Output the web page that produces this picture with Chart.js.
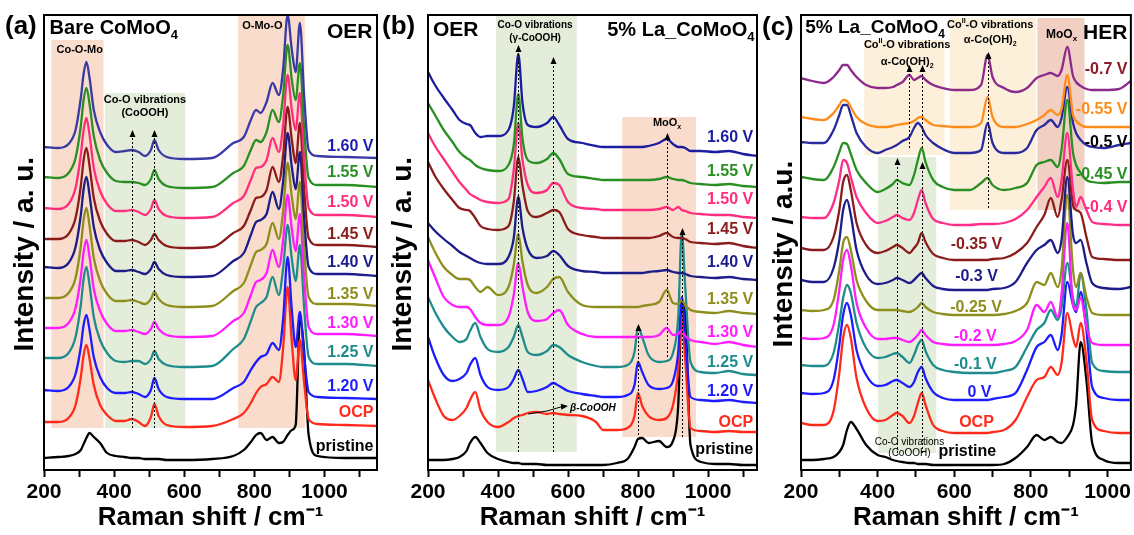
<!DOCTYPE html>
<html>
<head>
<meta charset="utf-8">
<script src="https://cdn.jsdelivr.net/npm/chart.js@4.4.0/dist/chart.umd.min.js"></script>
<style>
  body { margin: 0; background: #fff; }
  #wrap { position: relative; width: 1134px; height: 535px; overflow: hidden; }
  canvas { position: absolute; top: 0; }
</style>
</head>
<body>
<div id="wrap">
  <canvas id="chartA" width="380" height="535" style="left:0px"></canvas>
  <canvas id="chartB" width="382" height="535" style="left:380px"></canvas>
  <canvas id="chartC" width="374" height="535" style="left:760px"></canvas>
</div>
<script>
// ---------- panel (a): bare CoMoO4, OER ----------
const ramanA = [200,240,270,290,305,313,321,330,342,360,380,405,430,450,470,488,505,515,527,550,600,680,740,770,790,805,818,835,852,870,882,895,907,918,930,942,955,980,1060,1150];
const namesA = ['1.60 V','1.55 V','1.50 V','1.45 V','1.40 V','1.35 V','1.30 V','1.25 V','1.20 V','OCP','pristine'];
const offsetA = [310,282,252,222,193,163,133,103,70,43,10];
const a160 = [13,12,16,30,62,86,98,82,50,28,15,8,9,10,8,4,10,20,10,3,1,2,17,23,40,50,47,58,77,65,90,145,110,88,137,65,10,4,3,2];
const a155 = [11,10,15,30,62,88,100,84,52,28,15,7,6,6,5,3,9,18,9,2,0,1,15,22,38,48,46,56,78,66,92,143,108,88,125,60,10,3,3,1];
const a150 = [10,9,14,30,63,88,100,83,50,27,14,7,7,8,6,3,9,18,9,2,0,1,15,22,38,50,51,58,80,66,92,143,108,88,125,60,10,3,3,1];
const a145 = [9,9,14,30,62,88,100,82,50,27,14,7,7,8,6,3,8,14,8,2,0,1,15,22,38,50,51,58,81,66,92,141,108,85,125,60,10,3,3,1];
const a140 = [10,9,14,30,62,88,100,82,50,27,14,6,6,7,5,3,8,15,8,2,0,1,16,24,42,55,57,63,85,68,95,144,110,88,125,60,10,3,3,1];
const a135 = [9,9,14,29,61,87,99,81,49,26,13,6,6,7,5,3,8,15,8,2,0,1,16,24,42,55,57,63,84,68,95,144,110,88,125,60,10,3,3,1];
const a130 = [9,9,14,29,60,85,97,80,48,26,13,6,6,7,5,3,8,15,8,2,0,1,16,24,42,55,57,64,87,70,96,142,108,86,123,60,10,3,3,1];
const a125 = [9,9,14,30,62,88,100,82,50,27,14,6,5,6,6,3,8,16,8,2,0,1,18,28,46,60,64,70,90,72,98,142,108,86,122,60,10,3,3,1];
const a120 = [10,9,13,26,53,75,85,70,43,23,12,7,7,8,6,3,10,22,11,3,1,1,12,18,30,38,43,46,57,50,80,143,90,53,88,45,8,3,2,1];
const aOCP = [5,5,9,22,50,72,82,68,42,22,12,6,6,8,5,1,10,23,11,2,0,1,8,14,24,34,40,43,50,45,78,140,85,47,87,45,8,3,2,1];
const aPristine = [2,3,4,6,10,16,22,27,23,17,7,4,3,2,2,1,1,1,1,0,0,1,4,10,18,25,27,20,23,17,18,25,30,35,140,110,25,4,2,2];

// ---------- panel (b): 5% La_CoMoO4, OER ----------
const ramanB = [200,220,245,270,290,310,320,335,350,370,400,430,445,458,470,485,510,540,558,575,600,640,680,700,740,770,790,800,812,830,860,882,900,915,925,935,950,980,1020,1060,1100,1140];
const namesB = ['1.60 V','1.55 V','1.50 V','1.45 V','1.40 V','1.35 V','1.30 V','1.25 V','1.20 V','OCP','pristine'];
const offsetB = [323,290,260,232,197,163,133,103,73,40,5];
const b160 = [75,62,49,37,27,23,22,14,10,11,11,17,40,93,44,22,20,24,30,22,8,4,1,0,0,0,0,0,0,1,4,8,3,0,0,-1,-4,-4,-5,-4,-7,-9];
const b155 = [77,65,50,38,28,22,20,15,12,10,9,15,35,86,41,20,17,21,27,21,6,3,1,0,0,0,0,0,0,0,1,3,1,0,0,-1,-3,-4,-5,-4,-6,-7];
const b150 = [77,64,51,38,28,20,16,13,10,8,7,11,40,87,50,25,17,20,27,25,8,2,1,0,0,0,0,0,0,0,1,3,0,3,0,-1,-3,-4,-5,-5,-7,-8];
const b145 = [76,62,49,38,30,28,27,20,12,9,8,12,36,81,52,27,21,25,28,26,9,3,1,0,0,0,0,0,0,0,2,5,1,0,0,-1,-4,-5,-6,-5,-8,-10];
const b140 = [50,42,34,27,21,17,15,12,10,9,9,16,35,76,45,24,15,17,22,18,7,2,1,0,0,0,0,0,0,1,2,3,1,0,0,-1,-3,-4,-5,-4,-6,-7];
const b135 = [70,55,40,32,28,28,27,20,15,20,12,20,42,73,45,22,14,20,28,30,15,2,0,0,0,0,0,0,1,2,5,17,4,3,7,2,-3,-5,-6,-4,-6,-7];
const b130 = [77,60,40,32,30,30,28,20,14,12,12,20,42,74,50,25,16,18,24,27,12,3,0,0,0,0,0,0,0,0,2,9,2,3,6,1,-3,-5,-7,-5,-8,-10];
const b125 = [70,55,40,30,25,28,36,44,30,18,15,20,30,42,30,15,12,16,22,20,12,5,1,0,0,2,15,40,30,12,5,6,14,50,135,80,5,-5,-6,-4,-7,-8];
const b120 = [60,40,22,16,18,24,32,39,22,10,7,10,18,27,18,5,6,10,14,11,6,3,1,0,0,2,12,35,25,12,8,9,16,45,100,60,0,-3,-4,-3,-5,-6];
const bOCP = [50,32,14,10,14,22,30,38,20,8,3,8,12,14,15,17,18,16,17,16,15,14,8,0,0,2,14,37,24,14,10,12,25,60,115,70,2,-1,-2,-1,-2,-2];
const bPristine = [5,5,5,6,8,14,22,28,22,12,6,3,2,2,1,1,1,0,0,0,0,0,0,0,2,6,18,26,27,22,24,18,24,60,160,150,20,3,1,1,0,0];

// ---------- panel (c): 5% La_CoMoO4, HER ----------
const ramanC = [200,230,260,285,300,310,320,330,345,370,400,420,440,450,465,483,495,505,515,525,545,570,600,640,670,687,700,730,760,790,815,835,852,870,880,895,910,918,930,945,960,990,1030,1061];
const namesC = ['-0.7 V','-0.55 V','-0.5 V','-0.45 V','-0.4 V','-0.35 V','-0.3 V','-0.25 V','-0.2 V','-0.1 V','0 V','OCP','pristine'];
const offsetC = [380,343,317,280,245,210,180,155,125,97,70,37,5];
const c070 = [12,9,7,13,20,25,25,20,13,5,2,2,3,5,8,15,10,12,14,10,5,2,0,0,5,35,13,2,-2,2,12,15,17,14,20,43,14,8,4,1,0,0,1,9];
const c055 = [10,8,7,14,22,27,26,20,10,3,0,0,1,2,3,4,6,9,10,7,2,1,0,0,4,30,10,0,0,3,7,12,17,12,18,52,12,6,2,0,0,0,0,0];
const c050 = [11,10,10,23,38,48,48,38,20,6,0,3,6,8,12,16,25,30,26,18,10,4,0,0,3,30,10,0,0,5,23,28,33,26,35,66,30,20,13,8,6,5,8,10];
const c045 = [13,11,10,23,38,47,46,36,20,7,-2,1,6,10,7,5,15,30,42,28,10,3,0,0,7,12,5,0,2,7,25,28,30,23,40,90,37,25,17,10,8,7,8,8];
const c040 = [8,7,7,22,45,65,62,48,28,12,2,4,8,10,7,5,12,25,35,22,6,2,0,0,1,1,1,2,6,15,28,38,47,28,45,92,35,18,28,15,3,1,0,0];
const c035 = [12,10,10,23,50,78,85,70,37,15,7,9,13,15,12,7,12,17,27,18,6,2,0,0,0,0,1,2,7,17,33,45,62,43,60,100,55,50,47,23,3,1,0,0];
const c030 = [10,8,8,22,50,80,90,75,40,15,6,7,10,12,10,7,10,14,17,12,4,1,0,0,0,0,1,2,8,27,40,45,50,37,50,113,55,47,50,27,7,2,1,3];
const c025 = [5,4,5,15,45,72,78,65,35,14,5,5,5,5,4,3,5,8,12,8,3,1,0,0,0,0,0,1,4,12,33,30,42,28,45,120,45,28,42,18,2,0,0,0];
const c020 = [7,6,7,20,55,85,95,80,42,17,6,6,7,7,5,3,6,10,15,10,3,1,0,0,0,0,0,1,4,15,40,33,43,28,50,122,40,35,47,18,2,0,0,0];
const c010 = [8,7,7,20,50,75,88,80,50,25,15,16,19,20,16,10,18,28,33,22,8,3,1,0,0,0,0,2,6,26,43,50,63,53,65,110,75,66,100,63,10,2,1,1];
const c000 = [7,6,7,20,55,85,97,85,50,25,14,15,19,20,17,13,18,28,33,22,8,2,0,0,0,0,1,3,7,30,53,58,65,50,65,118,95,88,108,70,13,2,0,0];
const cOCP = [10,8,8,22,60,95,108,95,55,25,12,13,18,20,17,10,17,30,40,28,8,2,0,0,0,0,1,3,13,36,53,56,66,58,70,120,95,86,110,73,13,2,0,0];
const cPristine = [5,5,6,8,13,20,35,43,36,20,10,8,5,4,3,2,2,1,1,1,0,0,0,0,0,0,0,1,7,18,30,25,28,23,22,28,40,60,123,85,22,5,2,2];

// ---------- styles / layout ----------
const FONT = '"Liberation Sans", Arial, Helvetica, sans-serif';
const ORANGE = '#f9dccb', GREEN = '#e3edd9', YELLOW = '#fdf0da', SALMON = '#f1d0c3';
// trailing no-break spaces nudge the rotated title a little down, like the original
const Y_TITLE_PAD = '\u00A0\u00A0\u00A0';

const colorsA = ['#3a3aa6','#2a8f22','#ff2d7d','#8b1c1c','#1c1c8a','#8e8e1c','#ff1cff','#1e8c8c','#1c1cff','#ff2a1a','#000000'];
const labelColorsA = ['#1c1cb0','#2a8f22','#ff2d7d','#8b1c1c','#1c1c8a','#8e8e1c','#ff1cff','#1e8c8c','#1c1cff','#ff2a1a','#000000'];
const labelYA = [323,297,267,235,207,175,146,117,83,57,23];

const colorsB = ['#1c1ca0','#2a8f22','#ff2d7d','#8b1c1c','#1c1c8a','#8e8e1c','#ff1cff','#1e8c8c','#1c1cff','#ff2a1a','#000000'];
const labelYB = [332,298,270,240,207,170,137,107,78,47,20];

const colorsC = ['#8b2a8b','#ff8c1a','#2a2aa0','#2a8f22','#ff2d8a','#8b1c1c','#1c1c8a','#8e8e1c','#ff1cff','#1e8c8c','#1c1cff','#ff2a1a','#000000'];
const labelColorsC = ['#8b1a2a','#ff8c1a','#000000','#2a8f22','#ff2d7d','#8b1c1c','#1c1c8a','#8e8e1c','#ff1cff','#1e8c8c','#1c1cff','#ff2a1a','#000000'];
const labelXC = [1052,1052,1052,1052,1052,658,658,657,655,655,666,658,634];
const labelYC = [400,360,327,295,262,225,193,162,133,105,77,47,18];

// split "CoMoO_{4}" / "Co^{II}" into plain, sub and sup parts
function richParts(str) {
    const parts = [];
    const re = /([_^])\{([^}]*)\}/g;
    let last = 0, m;
    while ((m = re.exec(str))) {
        if (m.index > last) parts.push({ t: str.slice(last, m.index), k: '' });
        parts.push({ t: m[2], k: m[1] });
        last = re.lastIndex;
    }
    if (last < str.length) parts.push({ t: str.slice(last), k: '' });
    return parts;
}

function drawRich(ctx, str, x, y, size, o) {
    const parts = richParts(str);
    const weight = o.weight || 'bold';
    const style = o.italic ? 'italic ' : '';
    const fontFor = k => `${style}${weight} ${k ? Math.round(size * 0.65) : size}px ${FONT}`;
    let total = 0;
    parts.forEach(p => { ctx.font = fontFor(p.k); p.w = ctx.measureText(p.t).width; total += p.w; });
    let cx = o.align === 'right' ? x - total : (o.align === 'left' ? x : x - total / 2);
    ctx.fillStyle = o.color || '#000';
    ctx.textAlign = 'left';
    ctx.textBaseline = 'middle';
    parts.forEach(p => {
        ctx.font = fontFor(p.k);
        const dy = p.k === '_' ? size * 0.35 : (p.k === '^' ? -size * 0.35 : 0);
        ctx.fillText(p.t, cx, y + dy);
        cx += p.w;
    });
}

function arrowHead(ctx, x, y, angle) {
    ctx.save();
    ctx.translate(x, y);
    ctx.rotate(angle);
    ctx.beginPath();
    ctx.moveTo(0, 0);
    ctx.lineTo(-7, -3);
    ctx.lineTo(-7, 3);
    ctx.closePath();
    ctx.fill();
    ctx.restore();
}

// shaded bands, dotted guides, notes and frame
const decor = {
    id: 'decor',
    beforeDatasetsDraw(chart, args, o) {
        const { ctx, scales: { x, y } } = chart;
        ctx.save();
        (o.bands || []).forEach(b => {
            const x0 = x.getPixelForValue(b.x0), x1 = x.getPixelForValue(b.x1);
            const y0 = y.getPixelForValue(b.y0), y1 = y.getPixelForValue(b.y1);
            ctx.fillStyle = b.color;
            ctx.fillRect(x0, y1, x1 - x0, y0 - y1);
        });
        ctx.restore();
    },
    afterDatasetsDraw(chart, args, o) {
        const { ctx, chartArea: ca, scales: { x, y } } = chart;
        ctx.save();
        ctx.fillStyle = '#000';
        (o.guides || []).forEach(g => {
            const px = Math.round(x.getPixelForValue(g.x)) + 0.5;
            const yb = y.getPixelForValue(g.y0), yt = y.getPixelForValue(g.y1);
            ctx.strokeStyle = '#000';
            ctx.lineWidth = 1;
            ctx.setLineDash([2, 2]);
            ctx.beginPath();
            ctx.moveTo(px, yb);
            ctx.lineTo(px, yt + 5);
            ctx.stroke();
            ctx.setLineDash([]);
            arrowHead(ctx, px, yt, -Math.PI / 2);
        });
        (o.pointers || []).forEach(p => {
            const x0 = x.getPixelForValue(p.x0), y0 = y.getPixelForValue(p.y0);
            const x1 = x.getPixelForValue(p.x1), y1 = y.getPixelForValue(p.y1);
            ctx.strokeStyle = '#000';
            ctx.lineWidth = 1;
            ctx.beginPath();
            ctx.moveTo(x0, y0);
            ctx.quadraticCurveTo((x0 + x1) / 2, y0 - 2, x1 - 4, y1);
            ctx.stroke();
            arrowHead(ctx, x1, y1, Math.atan2(y1 - y0, x1 - x0) * 0.5);
        });
        (o.notes || []).forEach(n => {
            drawRich(ctx, n.text, x.getPixelForValue(n.x), y.getPixelForValue(n.y), n.size, n);
        });
        ctx.lineWidth = 2;
        ctx.strokeStyle = '#000';
        ctx.strokeRect(ca.left, ca.top, ca.right - ca.left, ca.bottom - ca.top);
        if (o.tag) drawRich(ctx, o.tag.text, o.tag.x, o.tag.y, 26, { align: 'left' });
        ctx.restore();
    }
};

function labelNotes(names, xs, ys, colors, aligns) {
    return names.map((n, i) => ({
        text: n, x: xs[i], y: ys[i], size: 16, color: colors[i], align: aligns[i]
    }));
}

function makePanel(id, p) {
    const ctx = document.getElementById(id).getContext('2d');
    return new Chart(ctx, {
        type: 'line',
        data: {
            datasets: p.series.map((s, i) => ({
                label: p.names[i],
                data: p.xs.map((xv, j) => ({ x: xv, y: s[j] + p.offsets[i] })),
                borderColor: p.colors[i],
                borderWidth: 2.3,
                pointRadius: 0,
                cubicInterpolationMode: 'monotone',
                fill: false
            }))
        },
        options: {
            responsive: false,
            animation: false,
            events: [],
            layout: { padding: { left: 0, right: p.padRight, top: 15, bottom: 0 } },
            plugins: {
                legend: { display: false },
                tooltip: { enabled: false },
                decor: p.decor
            },
            scales: {
                x: {
                    type: 'linear',
                    min: 200,
                    max: p.xMax,
                    afterFit: s => { s.height = 65; },
                    border: { display: true, color: '#000', width: 2 },
                    grid: { drawOnChartArea: false, drawTicks: true, tickLength: 7, tickWidth: 2, tickColor: '#000' },
                    ticks: {
                        stepSize: 100,
                        includeBounds: false,
                        autoSkip: false,
                        maxRotation: 0,
                        padding: 3,
                        color: '#000',
                        font: { family: FONT, size: 21, weight: 'bold' },
                        callback: v => (v % 200 === 0 ? v : '')
                    },
                    title: {
                        display: true,
                        text: 'Raman shift / cm\u207B\u00B9',
                        color: '#000',
                        font: { family: FONT, size: 26, weight: 'bold' },
                        padding: { top: 0, bottom: 2 }
                    }
                },
                y: {
                    min: 0,
                    max: 455,
                    afterFit: s => { s.width = p.yWidth; },
                    border: { display: true, color: '#000', width: 2 },
                    grid: { display: false },
                    ticks: { display: false },
                    title: {
                        display: true,
                        text: p.yTitle + Y_TITLE_PAD,
                        color: '#000',
                        font: { family: FONT, size: 28, weight: 'bold' },
                        padding: { top: p.yTitlePad, bottom: 0 }
                    }
                }
            }
        },
        plugins: [decor]
    });
}

makePanel('chartA', {
    xs: ramanA, names: namesA, offsets: offsetA, colors: colorsA,
    series: [a160, a155, a150, a145, a140, a135, a130, a125, a120, aOCP, aPristine],
    xMax: 1150, yWidth: 44, padRight: 3, yTitle: 'Intensity / a. u.', yTitlePad: 8,
    decor: {
        tag: { text: '(a)', x: 5, y: 27 },
        bands: [
            { x0: 221, x1: 370, y0: 42, y1: 430, color: ORANGE },
            { x0: 374, x1: 603, y0: 42, y1: 377, color: GREEN },
            { x0: 754, x1: 944, y0: 42, y1: 455, color: ORANGE }
        ],
        guides: [{ x: 450, y0: 42, y1: 340 }, { x: 515, y0: 42, y1: 340 }],
        notes: [
            { x: 216, y: 442, text: 'Bare CoMoO_{4}', size: 20, align: 'left' },
            { x: 302, y: 420, text: 'Co-O-Mo', size: 11 },
            { x: 488, y: 370, text: 'Co-O vibrations', size: 11 },
            { x: 488, y: 357, text: '(CoOOH)', size: 11 },
            { x: 823, y: 444, text: 'O-Mo-O', size: 11 },
            { x: 1137, y: 438, text: 'OER', size: 21, align: 'right' }
        ].concat(labelNotes(namesA, namesA.map(() => 1140), labelYA, labelColorsA, namesA.map(() => 'right')))
    }
});

makePanel('chartB', {
    xs: ramanB, names: namesB, offsets: offsetB, colors: colorsB,
    series: [b160, b155, b150, b145, b140, b135, b130, b125, b120, bOCP, bPristine],
    xMax: 1140, yWidth: 48, padRight: 5, yTitle: 'Intensity / a. u.', yTitlePad: 6,
    decor: {
        tag: { text: '(b)', x: 2, y: 27 },
        bands: [
            { x0: 394, x1: 625, y0: 18, y1: 455, color: GREEN },
            { x0: 755, x1: 966, y0: 33, y1: 353, color: ORANGE }
        ],
        guides: [
            { x: 458, y0: 18, y1: 425 }, { x: 558, y0: 18, y1: 413 },
            { x: 882, y0: 113, y1: 337 }, { x: 800, y0: 35, y1: 146 }, { x: 925, y0: 33, y1: 242 }
        ],
        pointers: [{ x0: 486, y0: 56, x1: 600, y1: 64 }],
        notes: [
            { x: 214, y: 440, text: 'OER', size: 21, align: 'left' },
            { x: 506, y: 445, text: 'Co-O vibrations', size: 10 },
            { x: 506, y: 432, text: '(\u03B3-CoOOH)', size: 10 },
            { x: 712, y: 440, text: '5% La_CoMoO_{4}', size: 20, align: 'left' },
            { x: 883, y: 347, text: 'MoO_{x}', size: 11 },
            { x: 606, y: 62, text: '\u03B2-CoOOH', size: 10, italic: true, align: 'left' }
        ].concat(labelNotes(namesB, namesB.map(() => 1129), labelYB, colorsB, namesB.map(() => 'right')))
    }
});

makePanel('chartC', {
    xs: ramanC, names: namesC, offsets: offsetC, colors: colorsC,
    series: [c070, c055, c050, c045, c040, c035, c030, c025, c020, c010, c000, cOCP, cPristine],
    xMax: 1061, yWidth: 41, padRight: 2, yTitle: 'Intensity / a.u.', yTitlePad: 7,
    decor: {
        tag: { text: '(c)', x: 2, y: 28 },
        bands: [
            { x0: 365, x1: 575, y0: 315, y1: 430, color: YELLOW },
            { x0: 588, x1: 813, y0: 260, y1: 452, color: YELLOW },
            { x0: 817, x1: 940, y0: 260, y1: 452, color: SALMON },
            { x0: 401, x1: 553, y0: 17, y1: 313, color: GREEN }
        ],
        guides: [
            { x: 483, y0: 322, y1: 405 }, { x: 515, y0: 322, y1: 405 },
            { x: 450, y0: 17, y1: 312 }, { x: 515, y0: 17, y1: 308 },
            { x: 687, y0: 262, y1: 418 }
        ],
        notes: [
            { x: 211, y: 442, text: '5% La_CoMoO_{4}', size: 19, align: 'left' },
            { x: 477, y: 425, text: 'Co^{II}-O vibrations', size: 11 },
            { x: 477, y: 408, text: '\u03B1-Co(OH)_{2}', size: 11 },
            { x: 694, y: 445, text: 'Co^{II}-O vibrations', size: 11 },
            { x: 694, y: 430, text: '\u03B1-Co(OH)_{2}', size: 11 },
            { x: 880, y: 435, text: 'MoO_{x}', size: 12 },
            { x: 1052, y: 437, text: 'HER', size: 21, align: 'right' },
            { x: 483, y: 28, text: 'Co-O vibrations', size: 10, weight: 'normal' },
            { x: 483, y: 17, text: '(CoOOH)', size: 10, weight: 'normal' }
        ].concat(labelNotes(namesC, labelXC, labelYC, labelColorsC,
            namesC.map((n, i) => (i < 5 ? 'right' : 'center'))))
    }
});
</script>
</body>
</html>
